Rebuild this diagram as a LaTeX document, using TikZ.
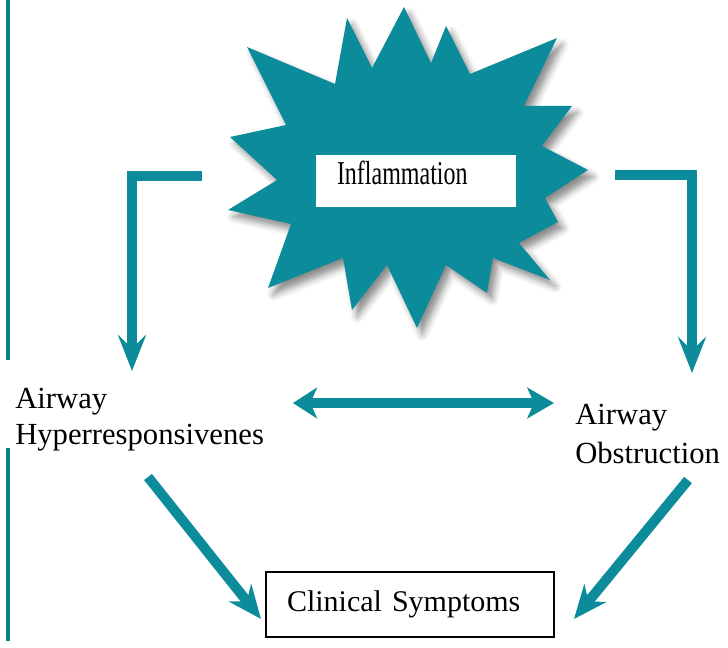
\documentclass[tikz,border=0pt]{standalone}
\usepackage{fontspec}
\setmainfont{Liberation Serif}
\usepackage{graphicx}
\usetikzlibrary{arrows.meta,shadows.blur}
\definecolor{tealc}{RGB}{12,140,155}
\definecolor{sidec}{RGB}{10,128,140}
\begin{document}
\begin{tikzpicture}[x=0.75pt,y=-0.75pt,
  arr/.style={draw=tealc,line width=7.5pt,line join=miter,
    -{Stealth[length=27pt,width=21pt,inset=10pt]}},
  diag/.style={draw=tealc,line width=7.5pt,
    -{Stealth[length=25pt,width=21pt,inset=8pt]}},
  arrtwo/.style={draw=tealc,line width=7.5pt,
    {Stealth[length=18pt,width=23pt,inset=5pt]}-{Stealth[length=20pt,width=23pt,inset=5pt]}},
  lbl/.style={align=left,inner sep=0pt},
  sideline/.style={draw=sidec,line width=2.4pt},
  whitebox/.style={fill=white,inner ysep=0pt,align=left}]
\useasboundingbox (0,0) rectangle (728,648);

% left border line
\draw[sideline] (8,0) -- (8,360);
\draw[sideline] (8,448) -- (8,641);

% starburst
\fill[tealc, blur shadow={shadow xshift=4pt,shadow yshift=-5pt,shadow blur radius=5pt,shadow opacity=45}]
  (404,7) -- (431,63) -- (446,26) -- (470,74) -- (557,38) -- (524,106)
  -- (572,106) -- (542,146) -- (588,170) -- (545,198) -- (558,222)
  -- (519,243) -- (550,280) -- (493,258) -- (487,293) -- (446,265)
  -- (417,328) -- (387,265) -- (352,310) -- (343,258) -- (268,288)
  -- (291,224) -- (228,210) -- (277,180) -- (230,137) -- (286,125)
  -- (247,47) -- (335,84) -- (347,18) -- (372,68) -- cycle;

% Inflammation box
\node[whitebox, inner xsep=15.75pt, text width=118.5pt, minimum height=39pt,
      text height=12pt, text depth=6pt] (infl) at (416,181)
  {\fontsize{25}{28}\selectfont\scalebox{0.72}[1]{Inflammation}};

% labels
\node[lbl, anchor=base west, font=\fontsize{23}{27}\selectfont] (ahr) at (15,444)
  {Airway\\Hyperresponsivenes};
\node[lbl, anchor=base west, font=\fontsize{23}{28.5}\selectfont] (ao) at (575,463)
  {Airway\\Obstruction};

% Clinical symptoms box
\node[draw=black, line width=0.8pt, fill=white, align=left, inner ysep=0pt,
      inner xsep=15.75pt, text width=184.5pt, minimum height=48.75pt,
      text height=14pt, text depth=3.4pt,
      font=\fontsize{22.5}{26}\selectfont] (cs) at (410,604.5)
  {Clinical Symptoms};

% connectors
\coordinate (l1) at (202,176);
\coordinate (l2) at (132,371);
\coordinate (r1) at (615,175);
\coordinate (r2) at (692,373);
\coordinate (d1) at (293,403);
\coordinate (d2) at (554,403);
\coordinate (a1) at (148,477);
\coordinate (a2) at (261,619);
\coordinate (b1) at (688,480);
\coordinate (b2) at (574,619);

\draw[arr] (l1) -| (l2);
\draw[arr] (r1) -| (r2);
\draw[arrtwo] (d1) -- (d2);
\draw[diag] (a1) -- (a2);
\draw[diag] (b1) -- (b2);
\end{tikzpicture}
\end{document}
